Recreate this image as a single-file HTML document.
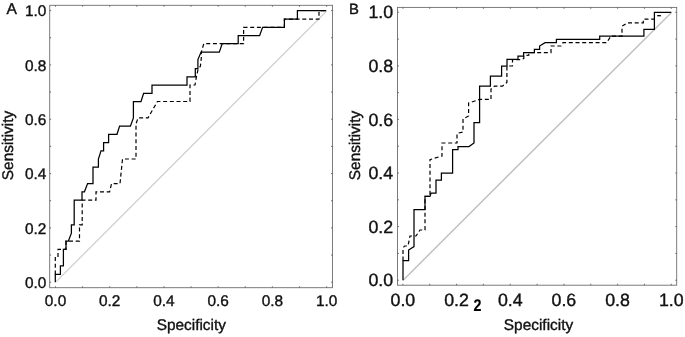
<!DOCTYPE html>
<html><head><meta charset="utf-8"><title>ROC curves</title>
<style>
html,body{margin:0;padding:0;background:#fff;}
svg{display:block;}
text{font-family:"Liberation Sans",sans-serif;fill:#111;}
text{stroke:#111;stroke-width:0.38px;text-rendering:geometricPrecision;}
.t{font-size:15.4px;}
.t2{font-size:17.8px;}
.l{font-size:15.4px;}
.p{font-size:15.6px;}
.p2{font-size:14.8px;}
.b{font-size:14.3px;font-weight:bold;fill:#000;stroke-width:0.1px;}
</style></head>
<body>
<svg width="685" height="337" viewBox="0 0 685 337">
<rect width="685" height="337" fill="#fff"/>
<rect x="49.7" y="5.3" width="282.8" height="282.4" fill="none" stroke="#6e6e6e" stroke-width="0.9"/>
<path d="M55.50,287.7v-1.4M55.50,5.3v1.4M49.7,282.20h1.4M332.5,282.20h-1.4M82.61,287.7v-1.4M82.61,5.3v1.4M49.7,255.04h1.4M332.5,255.04h-1.4M109.72,287.7v-1.4M109.72,5.3v1.4M49.7,227.88h1.4M332.5,227.88h-1.4M136.83,287.7v-1.4M136.83,5.3v1.4M49.7,200.72h1.4M332.5,200.72h-1.4M163.94,287.7v-1.4M163.94,5.3v1.4M49.7,173.56h1.4M332.5,173.56h-1.4M191.05,287.7v-1.4M191.05,5.3v1.4M49.7,146.40h1.4M332.5,146.40h-1.4M218.16,287.7v-1.4M218.16,5.3v1.4M49.7,119.24h1.4M332.5,119.24h-1.4M245.27,287.7v-1.4M245.27,5.3v1.4M49.7,92.08h1.4M332.5,92.08h-1.4M272.38,287.7v-1.4M272.38,5.3v1.4M49.7,64.92h1.4M332.5,64.92h-1.4M299.49,287.7v-1.4M299.49,5.3v1.4M49.7,37.76h1.4M332.5,37.76h-1.4M326.60,287.7v-1.4M326.60,5.3v1.4M49.7,10.60h1.4M332.5,10.60h-1.4" stroke="#5a5a5a" stroke-width="0.9" fill="none"/>
<line x1="55.7" y1="282.2" x2="326.8" y2="10.8" stroke="#cccccc" stroke-width="1.2"/>
<polyline points="55.3,274.4 55.3,257.6 58.0,257.6 58.0,249.3 66.0,249.3 66.0,241.2 79.5,241.2 79.5,224.8 82.2,224.8 82.2,200.1 96.0,200.1 96.0,191.8 109.6,191.8 111.6,183.6 120.0,183.6 122.5,159.0 136.0,159.0 136.0,124.0 138.0,117.9 148.0,117.9 157.4,101.5 190.0,101.5 190.0,85.0 195.0,85.0 196.4,76.8 198.2,68.6 200.4,66.3 201.3,58.0 201.3,52.2 203.8,43.6 243.6,43.6 243.6,27.3 284.4,27.3 284.4,19.1 319.0,19.1 319.0,10.7 326.2,10.7" fill="none" stroke="#000" stroke-width="1.2" stroke-dasharray="4 2.7"/>
<polyline points="55.3,282.2 55.3,274.4 60.4,274.4 60.4,265.8 63.4,265.8 63.4,249.3 66.0,249.3 66.0,241.2 68.3,241.2 71.4,233.2 71.4,224.8 74.2,224.8 74.2,200.1 82.0,200.1 82.0,191.8 84.4,191.8 87.6,183.6 93.0,183.6 93.0,167.2 98.4,167.2 98.4,159.0 101.0,150.8 103.6,150.8 103.6,142.5 108.6,142.5 108.6,134.3 117.0,134.3 119.6,126.1 130.4,126.1 133.4,117.9 133.4,101.5 141.0,101.5 143.6,93.3 152.0,93.3 152.0,85.0 187.0,85.0 187.0,76.8 195.3,76.8 195.3,68.5 197.9,68.5 197.9,59.6 201.1,52.1 219.3,52.1 222.2,43.6 238.2,43.6 238.2,35.6 259.6,35.6 262.6,27.3 284.4,27.3 284.4,19.1 297.4,19.1 297.4,10.7 326.2,10.7" fill="none" stroke="#000" stroke-width="1.25"/>
<text x="55.5" y="306.3" text-anchor="middle" class="t">0.0</text>
<text x="46.4" y="287.9" text-anchor="end" class="t">0.0</text>
<text x="109.7" y="306.3" text-anchor="middle" class="t">0.2</text>
<text x="46.4" y="233.6" text-anchor="end" class="t">0.2</text>
<text x="163.9" y="306.3" text-anchor="middle" class="t">0.4</text>
<text x="46.4" y="179.3" text-anchor="end" class="t">0.4</text>
<text x="218.2" y="306.3" text-anchor="middle" class="t">0.6</text>
<text x="46.4" y="124.9" text-anchor="end" class="t">0.6</text>
<text x="272.4" y="306.3" text-anchor="middle" class="t">0.8</text>
<text x="46.4" y="70.6" text-anchor="end" class="t">0.8</text>
<text x="326.6" y="306.3" text-anchor="middle" class="t">1.0</text>
<text x="46.4" y="16.3" text-anchor="end" class="t">1.0</text>
<text x="191.3" y="330.1" text-anchor="middle" class="l">Specificity</text>
<text transform="translate(13,145.5) rotate(-90)" text-anchor="middle" class="l">Sensitivity</text>
<text x="6.6" y="14" class="p">A</text>
<rect x="397.5" y="7.4" width="279.2" height="277.8" fill="none" stroke="#6e6e6e" stroke-width="0.9"/>
<path d="M402.90,285.2v-1.4M402.90,7.4v1.4M397.5,280.20h1.4M676.7,280.20h-1.4M429.74,285.2v-1.4M429.74,7.4v1.4M397.5,253.41h1.4M676.7,253.41h-1.4M456.58,285.2v-1.4M456.58,7.4v1.4M397.5,226.62h1.4M676.7,226.62h-1.4M483.42,285.2v-1.4M483.42,7.4v1.4M397.5,199.83h1.4M676.7,199.83h-1.4M510.26,285.2v-1.4M510.26,7.4v1.4M397.5,173.04h1.4M676.7,173.04h-1.4M537.10,285.2v-1.4M537.10,7.4v1.4M397.5,146.25h1.4M676.7,146.25h-1.4M563.94,285.2v-1.4M563.94,7.4v1.4M397.5,119.46h1.4M676.7,119.46h-1.4M590.78,285.2v-1.4M590.78,7.4v1.4M397.5,92.67h1.4M676.7,92.67h-1.4M617.62,285.2v-1.4M617.62,7.4v1.4M397.5,65.88h1.4M676.7,65.88h-1.4M644.46,285.2v-1.4M644.46,7.4v1.4M397.5,39.09h1.4M676.7,39.09h-1.4M671.30,285.2v-1.4M671.30,7.4v1.4M397.5,12.30h1.4M676.7,12.30h-1.4" stroke="#5a5a5a" stroke-width="0.9" fill="none"/>
<line x1="403.1" y1="280.2" x2="671.5" y2="12.5" stroke="#bebebe" stroke-width="1.4"/>
<polyline points="403.0,260.6 403.0,248.0 404.6,246.0 408.0,246.0 410.0,236.0 416.0,236.0 420.0,230.0 425.0,230.0 425.0,196.4 430.0,196.4 430.0,159.6 442.0,156.0 442.0,143.0 457.0,143.0 457.0,133.4 463.0,132.0 463.0,119.0 468.6,116.0 468.6,103.0 479.6,99.4 491.0,99.4 491.0,89.0 494.5,86.1 502.5,86.1 506.9,82.5 506.9,66.0 512.5,66.0 512.5,59.6 521.4,59.6 523.8,58.5 523.8,55.6 528.8,55.3 528.8,52.6 551.0,52.6 551.0,46.0 561.0,46.0 563.0,42.6 606.8,42.6 610.8,36.1 622.0,36.1 622.0,26.3 627.3,22.8 643.3,22.8 643.3,19.2 654.5,19.2" fill="none" stroke="#000" stroke-width="1.2" stroke-dasharray="4 2.7"/>
<polyline points="403.0,280.2 403.0,260.6 408.6,260.6 408.6,250.0 414.0,246.6 414.0,209.6 425.0,209.6 425.0,196.4 430.0,196.4 431.0,193.0 436.0,193.0 436.0,180.0 441.4,180.0 441.4,173.0 452.6,173.0 452.6,149.6 458.0,149.6 458.0,146.6 469.0,146.6 474.0,143.0 474.0,122.6 479.6,122.6 479.6,86.0 490.4,86.0 490.4,76.0 501.6,76.0 501.6,66.0 507.0,66.0 507.0,59.4 518.0,59.4 518.0,56.0 523.6,56.0 523.6,52.6 534.4,52.6 534.4,49.4 539.6,49.4 539.6,46.0 545.0,42.6 556.4,42.6 556.4,39.4 599.7,39.4 599.7,36.1 643.9,36.1 643.9,29.4 654.4,29.4 654.4,12.4 671.3,12.4" fill="none" stroke="#000" stroke-width="1.25"/>
<text x="402.9" y="306.3" text-anchor="middle" class="t2">0.0</text>
<text x="393.2" y="286.3" text-anchor="end" class="t2">0.0</text>
<text x="456.6" y="306.3" text-anchor="middle" class="t2">0.2</text>
<text x="393.2" y="232.7" text-anchor="end" class="t2">0.2</text>
<text x="510.3" y="306.3" text-anchor="middle" class="t2">0.4</text>
<text x="393.2" y="179.1" text-anchor="end" class="t2">0.4</text>
<text x="563.9" y="306.3" text-anchor="middle" class="t2">0.6</text>
<text x="393.2" y="125.6" text-anchor="end" class="t2">0.6</text>
<text x="617.6" y="306.3" text-anchor="middle" class="t2">0.8</text>
<text x="393.2" y="72.0" text-anchor="end" class="t2">0.8</text>
<text x="671.3" y="306.3" text-anchor="middle" class="t2">1.0</text>
<text x="393.2" y="18.4" text-anchor="end" class="t2">1.0</text>
<text x="538.5" y="330.1" text-anchor="middle" class="l">Specificity</text>
<text transform="translate(360,145.5) rotate(-90)" text-anchor="middle" class="l">Sensitivity</text>
<text x="349" y="13.7" class="p2">B</text>
<line x1="657.2" y1="15.7" x2="660.9" y2="15.7" stroke="#000" stroke-width="1.3"/>
<text transform="translate(473.5,310.6) scale(1,1.18)" class="b">2</text>
</svg>
</body></html>
